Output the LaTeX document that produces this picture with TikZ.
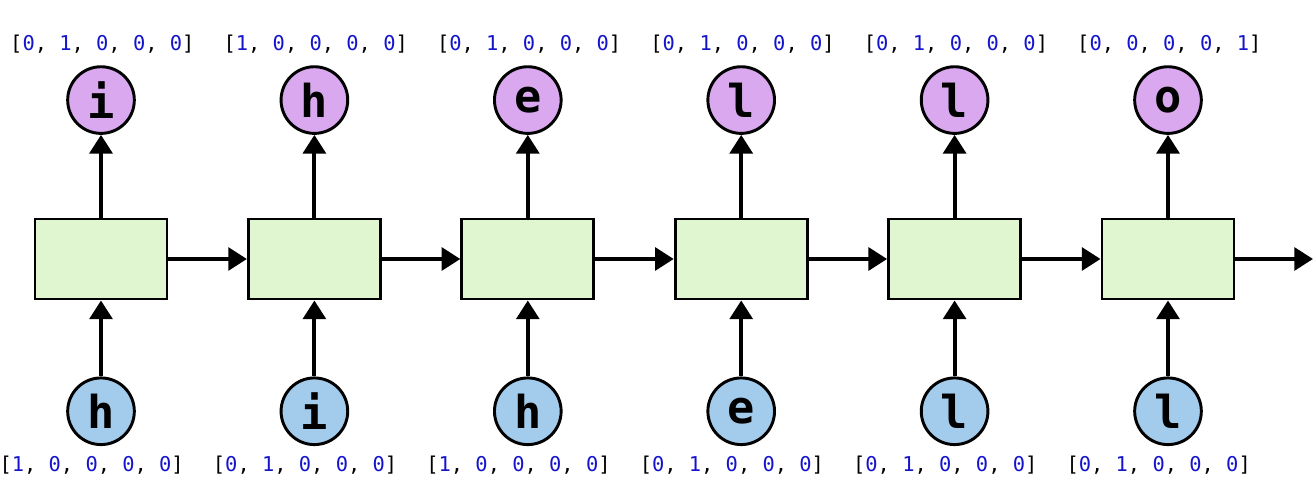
\documentclass[tikz,border=0pt]{standalone}
\usepackage{fontspec}
\setmonofont{DejaVu Sans Mono}
\usepackage{xcolor}
\usetikzlibrary{arrows.meta,positioning}
\definecolor{cellgreen}{HTML}{E0F6D0}
\definecolor{outpurple}{HTML}{D9A8EE}
\definecolor{inblue}{HTML}{A2CBEC}
\definecolor{digitblue}{HTML}{1414CC}
\newcommand{\hotdigit}[1]{\textcolor{digitblue}{#1}}
\newcommand{\hotvec}[5]{[\hotdigit{#1}, \hotdigit{#2}, \hotdigit{#3}, \hotdigit{#4}, \hotdigit{#5}]}

\begin{document}
\begin{tikzpicture}[x=0.75pt,y=-0.75pt,
    cell/.style={draw,line width=2.2pt,fill=cellgreen,minimum width=99pt,minimum height=60pt,inner sep=0pt},
    charnode/.style={circle,draw,line width=2.2pt,minimum size=50pt,inner sep=0pt,
      font=\fontsize{34}{34}\selectfont\ttfamily\bfseries},
    vec/.style={font=\fontsize{15.3}{15.3}\selectfont\ttfamily,inner sep=0pt},
    flow/.style={line width=3pt,-{Triangle[length=14pt,width=17pt]}}]
  \useasboundingbox (0,0) rectangle (1315,498);
  % cells, outputs and inputs
  \foreach \i/\inch/\outch/\invec/\outvec in {%
      1/h/i/{1}{0}{0}{0}{0}/{0}{1}{0}{0}{0},
      2/i/h/{0}{1}{0}{0}{0}/{1}{0}{0}{0}{0},
      3/h/e/{1}{0}{0}{0}{0}/{0}{1}{0}{0}{0},
      4/e/l/{0}{1}{0}{0}{0}/{0}{1}{0}{0}{0},
      5/l/l/{0}{1}{0}{0}{0}/{0}{1}{0}{0}{0},
      6/l/o/{0}{1}{0}{0}{0}/{0}{0}{0}{0}{1}} {
    \node[cell] (cell\i) at ({101+213.4*(\i-1)},259) {};
    \node[charnode,fill=outpurple,above=62pt of cell\i] (out\i) {\outch};
    \node[charnode,fill=inblue,below=57pt of cell\i] (in\i) {\inch};
    \node[vec,above=9pt of out\i,xshift=1pt] (outvec\i) {\expandafter\hotvec\outvec};
    \node[vec,below=7pt of in\i,xshift=-7pt] (invec\i) {\expandafter\hotvec\invec};
    \draw[flow] (cell\i) -- (out\i);
    \draw[flow] (in\i) -- (cell\i);
  }
  % recurrent links
  \foreach \i [evaluate=\i as \j using int(\i+1)] in {1,...,5}
    \draw[flow] (cell\i) -- (cell\j);
  \coordinate (tail) at (1313,259);
  \draw[flow] (cell6) -- (tail);
\end{tikzpicture}
\end{document}
